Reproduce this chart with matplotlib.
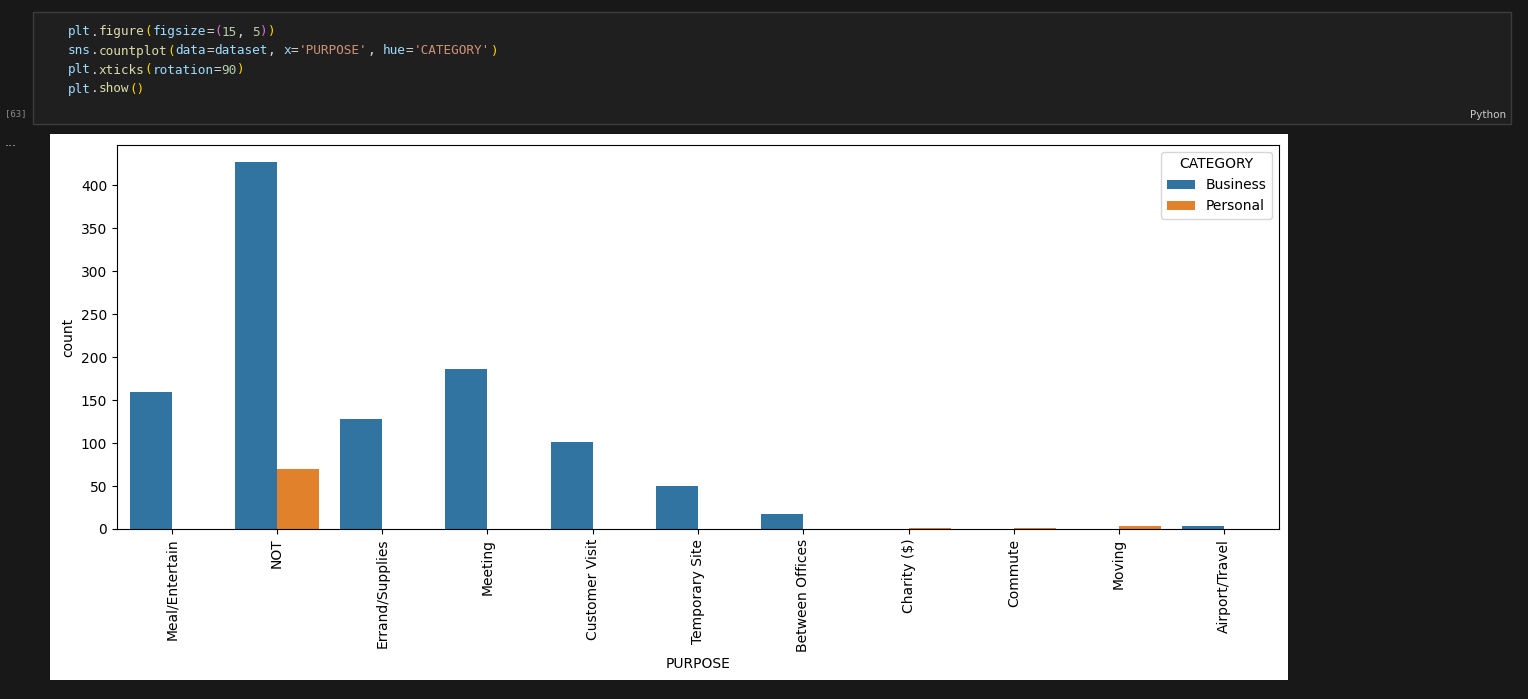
import matplotlib.pyplot as plt
import numpy as np
from matplotlib.patches import Rectangle

purposes = ["Meal/Entertain", "NOT", "Errand/Supplies", "Meeting", "Customer Visit",
            "Temporary Site", "Between Offices", "Charity ($)", "Commute", "Moving",
            "Airport/Travel"]
business = [160, 427, 128, 186, 101, 50, 18, 0, 0, 0, 3]
personal = [0, 70, 0, 0, 0, 0, 0, 1, 1, 4, 0]

code_lines = [
    [("plt", "#9cdcfe"), (".", "#d4d4d4"), ("figure", "#dcdcaa"), ("(", "#ffd700"),
     ("figsize", "#9cdcfe"), ("=", "#d4d4d4"), ("(", "#da70d6"), ("15", "#b5cea8"),
     (", ", "#d4d4d4"), ("5", "#b5cea8"), (")", "#da70d6"), (")", "#ffd700")],
    [("sns", "#9cdcfe"), (".", "#d4d4d4"), ("countplot", "#dcdcaa"), ("(", "#ffd700"),
     ("data", "#9cdcfe"), ("=", "#d4d4d4"), ("dataset", "#9cdcfe"), (", ", "#d4d4d4"),
     ("x", "#9cdcfe"), ("=", "#d4d4d4"), ("'PURPOSE'", "#ce9178"), (", ", "#d4d4d4"),
     ("hue", "#9cdcfe"), ("=", "#d4d4d4"), ("'CATEGORY'", "#ce9178"), (")", "#ffd700")],
    [("plt", "#9cdcfe"), (".", "#d4d4d4"), ("xticks", "#dcdcaa"), ("(", "#ffd700"),
     ("rotation", "#9cdcfe"), ("=", "#d4d4d4"), ("90", "#b5cea8"), (")", "#ffd700")],
    [("plt", "#9cdcfe"), (".", "#d4d4d4"), ("show", "#dcdcaa"), ("()", "#ffd700")],
]

W, H = 1528, 699
fig = plt.figure(figsize=(W / 100, H / 100), dpi=100)
fig.patch.set_facecolor("#181818")

# code cell
fig.patches.append(Rectangle((33 / W, 1 - 124 / H), 1478 / W, 112 / H,
                             transform=fig.transFigure, facecolor="#1f1f1f",
                             edgecolor="#3c3c3c", lw=1, zorder=-2))
for i, line in enumerate(code_lines):
    col = 0
    for tok, c in line:
        fig.text((68 + 7.68 * col) / W, 1 - (32 + 19 * i) / H, tok, color=c,
                 family="DejaVu Sans Mono", fontsize=9.2, va="center")
        col += len(tok)
fig.text(5 / W, 1 - 114 / H, "[63]", color="#8a8a8a", fontsize=6.5,
         family="DejaVu Sans Mono", va="center")
fig.text(1506 / W, 1 - 115 / H, "Python", color="#cccccc", fontsize=7.5,
         ha="right", va="center")
fig.text(5 / W, 1 - 142 / H, "...", color="#cccccc", fontsize=9, va="center")

# white output panel
fig.patches.append(Rectangle((50 / W, 1 - 680 / H), 1238 / W, 546 / H,
                             transform=fig.transFigure, facecolor="white", lw=0,
                             zorder=-2))

ax = fig.add_axes([117 / W, 1 - 529 / H, 1162 / W, 384 / H])
x = np.arange(len(purposes))
ax.bar(x - 0.2, business, width=0.4, color="#3274a1", label="Business")
ax.bar(x + 0.2, personal, width=0.4, color="#e1812c", label="Personal")
ax.set_xlim(-0.52, len(purposes) - 0.48)
ax.set_ylim(0, 447)
ax.set_xticks(x)
ax.set_xticklabels(purposes, rotation=90)
ax.set_xlabel("PURPOSE")
ax.set_ylabel("count")
ax.legend(title="CATEGORY", loc="upper right")

fig.savefig("out.png", dpi=100, facecolor=fig.get_facecolor())
